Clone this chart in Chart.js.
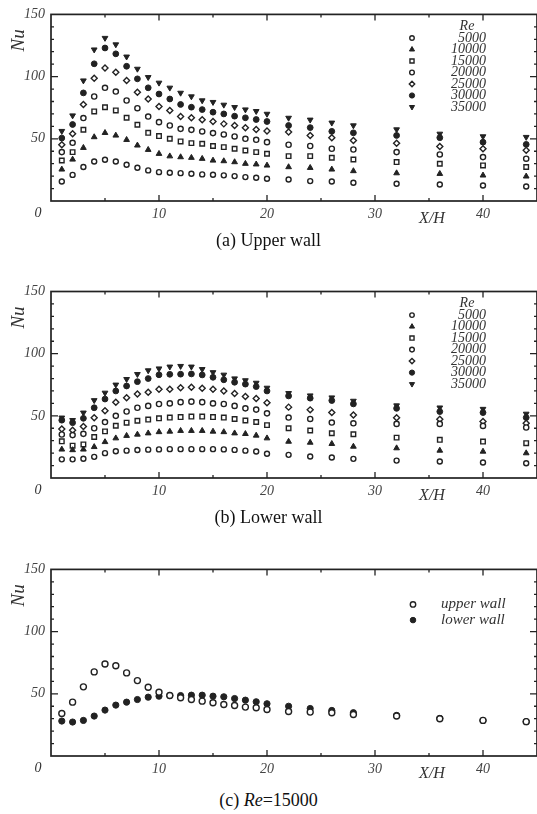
<!DOCTYPE html>
<html>
<head>
<meta charset="utf-8">
<script src="https://cdn.jsdelivr.net/npm/chart.js@4.4.1/dist/chart.umd.min.js"></script>
<style>
  body { margin: 0; width: 537px; height: 814px; overflow: hidden; background: #fff; position: relative; font-family: "Liberation Serif", serif; }
  canvas { position: absolute; left: 0; }
  .cap { position: absolute; left: 0; width: 537px; text-align: center; font-size: 18px; line-height: 22px; color: #111; }
</style>
</head>
<body>
<canvas id="upperChart" width="542" height="233" style="top:0"></canvas>
<div class="cap" style="top:229px">(a) Upper wall</div>
<canvas id="lowerChart" width="542" height="233" style="top:277px"></canvas>
<div class="cap" style="top:506px">(b) Lower wall</div>
<canvas id="compareChart" width="542" height="233" style="top:555px"></canvas>
<div class="cap" style="top:789px">(c) <i>Re</i>=15000</div>

<script>
// X/H stations
const xs = [1, 2, 3, 4, 5, 6, 7, 8, 9, 10, 11, 12, 13, 14, 15, 16, 17, 18, 19, 20, 22, 24, 26, 28, 32, 36, 40, 44];

// (a) upper wall Nu
const up5000  = [15.7, 21, 27.3, 31.8, 33.1, 31.8, 29.1, 26.7, 24.6, 23.2, 22.7, 22.4, 21.9, 21.4, 21.1, 20.6, 20, 19.2, 18.7, 17.9, 17.3, 16, 15.7, 14.7, 13.9, 13.3, 12.5, 11.7];
const up10000 = [25.4, 33.4, 42.8, 51.4, 54.8, 52.7, 49.2, 44.7, 41.2, 38, 36, 35.3, 34.8, 34, 32.6, 32.1, 31.3, 30, 29.5, 28.6, 27.3, 26.7, 25.4, 24.1, 22.4, 21.9, 20.6, 19.8];
const up15000 = [32.6, 39.3, 57.3, 72, 75.4, 72.8, 66.9, 61.3, 54.8, 52.2, 50, 47.9, 46.5, 46, 44.2, 43.3, 42, 40.6, 39.3, 38, 36.1, 36.1, 34.8, 33.4, 31.3, 29.9, 28.6, 27.3];
const up20000 = [39.3, 46.8, 66.7, 84, 91, 88, 80.8, 74.6, 67.9, 63.4, 60.7, 58, 57.2, 55.9, 54.6, 53.5, 51.9, 50, 49.2, 47.3, 45.2, 44.2, 42, 41.4, 39.3, 37.4, 35.3, 34];
const up25000 = [45.2, 54, 77.6, 98.7, 107, 103.5, 96.8, 87.5, 82, 76, 72.8, 67.9, 66.9, 65.3, 63.9, 62, 60.7, 58.8, 57.4, 56.2, 55.4, 52.7, 50.9, 48.7, 46.5, 43.9, 42, 40.7];
const up30000 = [50.6, 61.5, 86.9, 110.3, 123, 118.3, 108.3, 98.2, 91, 86, 82, 77.6, 75.4, 73.5, 71.4, 70, 68.2, 66.9, 65.5, 63.9, 60.7, 59, 56, 54.8, 52.7, 50.9, 47.3, 45.5];
const up35000 = [56.2, 68.7, 96.8, 121.7, 131, 125.8, 116, 106.2, 99.5, 95, 91, 86.9, 84, 80.8, 79.5, 77.3, 75.4, 73.5, 72.2, 70, 66.8, 65.3, 62.9, 60.7, 57.5, 54, 51.9, 51.4];

// (b) lower wall Nu
const lo5000  = [15, 15, 15.5, 17, 20, 21.5, 22, 22.5, 22.8, 23, 23.2, 23.2, 23.2, 23.2, 23.2, 23, 22.6, 22, 21.3, 19.5, 18.6, 17.3, 16.5, 15.4, 14, 13.3, 12.5, 11.9];
const lo10000 = [23, 22.5, 23, 25, 29, 32, 34, 35, 36, 37, 37.4, 38, 38, 38, 37.4, 37, 36, 35.5, 34.2, 32, 29.3, 28.5, 27.5, 25.3, 24, 22.1, 21.3, 20];
const lo15000 = [29.5, 26, 27, 33, 37.5, 42, 44.5, 46, 47, 48, 48.6, 49, 49.4, 49.4, 49, 48.6, 47.5, 46.2, 45, 42.5, 40, 38.2, 36, 35.2, 32.5, 30.7, 29.3, 28];
const lo20000 = [35, 34.5, 35.5, 40, 45, 50, 53.5, 56.5, 58, 59.5, 60, 61, 61.4, 61, 60, 59.5, 58, 56, 55, 52, 48.6, 47.5, 44.6, 44, 43.5, 43.5, 41.9, 40.6];
const lo25000 = [39.5, 38.5, 41.5, 48.5, 54, 61, 64.5, 67.5, 69, 71.4, 71.4, 72.5, 73, 72.2, 71.4, 70, 68, 65.5, 64, 60.5, 57, 54.8, 52.6, 50.7, 48.5, 47.3, 45.4, 44];
const lo30000 = [46.5, 44.5, 48, 56.5, 63.5, 70, 74, 77.5, 80, 83, 83.4, 83.5, 83.7, 82.9, 81, 79, 77, 75.5, 73.5, 70, 66, 64.2, 62.3, 59.6, 56, 53.4, 52.6, 48.6];
const lo35000 = [48.5, 46.5, 52.5, 62.5, 68.5, 75, 79.5, 83.5, 86.5, 88, 89.5, 90, 89.5, 87.5, 85, 83, 80, 78.5, 76.5, 72.5, 68.2, 66.3, 64.7, 62, 58.3, 56.6, 55.5, 51.6];

// (c) Re = 15000
const cmpUpper = [34.2, 43.3, 55.6, 67.6, 74, 72.6, 66.8, 60.6, 55.3, 51.3, 48.6, 46.8, 45.4, 44.1, 42.8, 41.4, 40.6, 39.3, 38.8, 37.4, 35.8, 35.3, 34.8, 33.4, 32.1, 30, 28.6, 27.6];
const cmpLower = [28.1, 27.3, 28.6, 32.1, 36.9, 40.9, 43.3, 45.4, 47.3, 48.1, 48.6, 48.6, 48.9, 48.9, 48.1, 47.6, 46.2, 44.9, 43.6, 42, 40, 38.2, 36.6, 34.8, 32.6, 30.2, 28.6, 27.6];

const reLabels = ['5000', '10000', '15000', '20000', '25000', '30000', '35000'];
const wallLabels = ['upper wall', 'lower wall'];
const xTicks = [10, 20, 30, 40];
const yTicks = [50, 100, 150];

const ink = '#222';
const open = (style, r) => ({ pointStyle: style, pointRadius: r, pointBackgroundColor: '#fff', pointBorderColor: ink, pointBorderWidth: 1.4, pointRotation: 0 });
const solid = (style, r, rot) => ({ pointStyle: style, pointRadius: r, pointBackgroundColor: ink, pointBorderColor: ink, pointBorderWidth: 1, pointRotation: rot || 0 });
const reStyles = [open('circle', 2.5), solid('triangle', 3.3), open('rect', 3.2), open('circle', 2.6), open('rectRot', 3.0), solid('circle', 2.9), solid('triangle', 3.3, 180)];
const wallStyles = [open('circle', 3), solid('circle', 3.1)];

const pts = vals => xs.map((x, i) => ({ x: x, y: vals[i] }));
const sets = (series, labels, styles) => series.map((s, i) => Object.assign({ label: labels[i], data: pts(s), pointHoverRadius: styles[i].pointRadius }, styles[i]));

const serif = '"Liberation Serif", "Times New Roman", serif';

function drawSym(ctx, st, x, y) {
  ctx.fillStyle = st.pointBackgroundColor;
  ctx.strokeStyle = st.pointBorderColor;
  ctx.lineWidth = st.pointBorderWidth;
  Chart.helpers.drawPoint(ctx, { pointStyle: st.pointStyle, radius: st.pointRadius * 0.9, rotation: st.pointRotation, borderWidth: st.pointBorderWidth }, x, y);
}

// frame, inward ticks, axis names and the legend block
const framePlugin = {
  id: 'frame',
  afterDatasetsDraw(chart, args, opts) {
    const ctx = chart.ctx, a = chart.chartArea, x = chart.scales.x, y = chart.scales.y;
    ctx.save();
    ctx.strokeStyle = ink;
    ctx.lineWidth = 1.7;
    ctx.strokeRect(a.left, a.top, a.right - a.left, a.bottom - a.top);
    ctx.lineWidth = 1.3;
    ctx.beginPath();
    for (let v = 5; v < 45; v += 5) {
      const px = x.getPixelForValue(v), len = v % 10 ? 3 : 6;
      ctx.moveTo(px, a.bottom); ctx.lineTo(px, a.bottom - len);
      ctx.moveTo(px, a.top); ctx.lineTo(px, a.top + len);
    }
    for (let v = 10; v < 150; v += 10) {
      const py = y.getPixelForValue(v), len = v % 50 ? 3 : 7;
      ctx.moveTo(a.left, py); ctx.lineTo(a.left + len, py);
      ctx.moveTo(a.right, py); ctx.lineTo(a.right - len, py);
    }
    ctx.stroke();

    ctx.fillStyle = '#333';
    ctx.textBaseline = 'middle';
    ctx.textAlign = 'center';
    ctx.font = 'italic 14px ' + serif;
    ctx.fillText('0', a.left - 13, a.bottom + 12);
    ctx.font = 'italic 16px ' + serif;
    ctx.fillText('X/H', 432, a.bottom + 18);
    ctx.save();
    ctx.translate(18.5, a.top + 26);
    ctx.rotate(-Math.PI / 2);
    ctx.font = 'italic 19px ' + serif;
    ctx.fillText('Nu', 0, 0);
    ctx.restore();

    ctx.font = 'italic 14px ' + serif;
    if (opts.kind === 're') {
      ctx.fillText('Re', 467, a.top + 11.5);
      ctx.textAlign = 'right';
      reLabels.forEach((t, i) => {
        const ty = a.top + 23.6 + 11.5 * i;
        ctx.fillStyle = '#333';
        ctx.fillText(t, 486, ty);
        drawSym(ctx, reStyles[i], 412, ty);
      });
    } else {
      ctx.font = 'italic 15px ' + serif;
      ctx.textAlign = 'left';
      wallLabels.forEach((t, i) => {
        const ty = a.top + 35 + 15.7 * i;
        ctx.fillStyle = '#333';
        ctx.fillText(t, 441, ty);
        drawSym(ctx, wallStyles[i], 413, ty);
      });
    }
    ctx.restore();
  }
};

const tickFont = { family: serif, size: 14, style: 'italic' };

function makeChart(id, padTop, datasets, kind) {
  return new Chart(document.getElementById(id), {
    type: 'scatter',
    data: { datasets: datasets },
    options: {
      responsive: false,
      animation: false,
      layout: { padding: { top: padTop, right: 3, left: 0, bottom: 0 } },
      plugins: { legend: { display: false }, tooltip: { enabled: false }, frame: { kind: kind } },
      scales: {
        x: {
          type: 'linear', min: 0, max: 45,
          afterFit: s => { s.height = 32; },
          grid: { display: false, drawTicks: false },
          border: { display: false },
          ticks: { stepSize: 5, padding: 5, autoSkip: false, maxRotation: 0, font: tickFont, color: '#444',
            callback: v => xTicks.includes(v) ? String(v) : '' }
        },
        y: {
          type: 'linear', min: 0, max: 150,
          afterFit: s => { s.width = 51; },
          grid: { display: false, drawTicks: false },
          border: { display: false },
          ticks: { stepSize: 10, padding: 6, autoSkip: false, font: tickFont, color: '#444',
            callback: v => yTicks.includes(v) ? String(v) : '' }
        }
      }
    },
    plugins: [framePlugin]
  });
}

makeChart('upperChart', 14, sets([up5000, up10000, up15000, up20000, up25000, up30000, up35000], reLabels, reStyles), 're');
makeChart('lowerChart', 14.5, sets([lo5000, lo10000, lo15000, lo20000, lo25000, lo30000, lo35000], reLabels, reStyles), 're');
makeChart('compareChart', 14.3, sets([cmpUpper, cmpLower], wallLabels, wallStyles), 'wall');
</script>
</body>
</html>
